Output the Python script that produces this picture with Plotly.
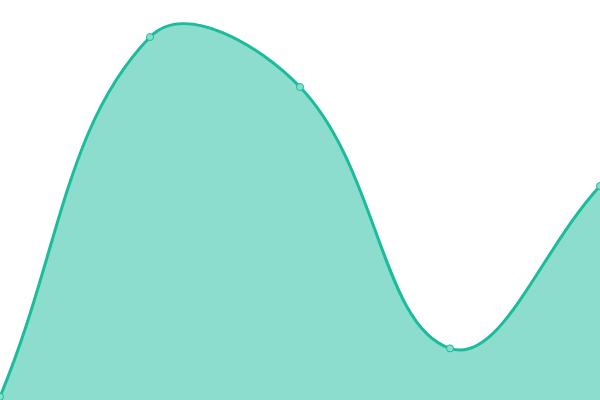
import math
import plotly.graph_objects as go

x_vals = [0, 1, 2, 3, 4]
y_vals = [0.8, 90.75, 78.25, 12.9, 53.5]

line_color = "#1abc9c"
fill_color = "rgba(26,188,156,0.5)"
marker_fill = "#86dfcd"

width, height = 600, 400
x_range = [0, 4]
y_range = [0, 100]
tension = 0.4

# pixels per data unit, so the curve tension is worked out on screen distances
sx = width / (x_range[1] - x_range[0])
sy = height / (y_range[1] - y_range[0])


def dist(a, b):
    return math.hypot((a[0] - b[0]) * sx, (a[1] - b[1]) * sy)


# smooth curve through the points (cardinal style, tension 0.4)
pts = list(zip(x_vals, y_vals))
ctrl = []
for i, cur in enumerate(pts):
    prev = pts[i - 1] if i > 0 else cur
    nxt = pts[i + 1] if i < len(pts) - 1 else cur
    d01 = dist(cur, prev)
    d12 = dist(nxt, cur)
    s01 = d01 / (d01 + d12) if d01 + d12 else 0
    s12 = d12 / (d01 + d12) if d01 + d12 else 0
    fa, fb = tension * s01, tension * s12
    dx, dy = nxt[0] - prev[0], nxt[1] - prev[1]
    ctrl.append(((cur[0] - fa * dx, cur[1] - fa * dy),
                 (cur[0] + fb * dx, cur[1] + fb * dy)))

curve = "M %f,%f" % pts[0]
for i in range(1, len(pts)):
    c1 = ctrl[i - 1][1]
    c2 = ctrl[i][0]
    curve += " C %f,%f %f,%f %f,%f" % (c1[0], c1[1], c2[0], c2[1], pts[i][0], pts[i][1])

area = "M %f,%f L" % (x_vals[0], y_range[0]) + curve[1:] + \
       " L %f,%f Z" % (x_vals[-1], y_range[0])

fig = go.Figure()

fig.add_shape(type="path", path=area, xref="x", yref="y",
              fillcolor=fill_color, line=dict(width=0), layer="below")
fig.add_shape(type="path", path=curve, xref="x", yref="y",
              line=dict(color=line_color, width=3), layer="below")

# points on top of the curve
fig.add_trace(go.Scatter(x=x_vals,
                         y=y_vals,
                         mode="markers",
                         marker=dict(size=7, color=marker_fill, line=dict(color=line_color, width=1)),
                         cliponaxis=False,
                         hoverinfo="skip",
                         showlegend=False))

fig.update_layout(width=width, height=height,
                  margin=dict(l=0, r=0, t=0, b=0),
                  paper_bgcolor="white",
                  plot_bgcolor="white")
fig.update_xaxes(range=x_range, visible=False)
fig.update_yaxes(range=y_range, visible=False)

# the page body has a default 8px margin, drop it so the plot fills the window
fig.write_html("out.html", config={"displayModeBar": False},
               post_script="document.body.style.margin='0';")
